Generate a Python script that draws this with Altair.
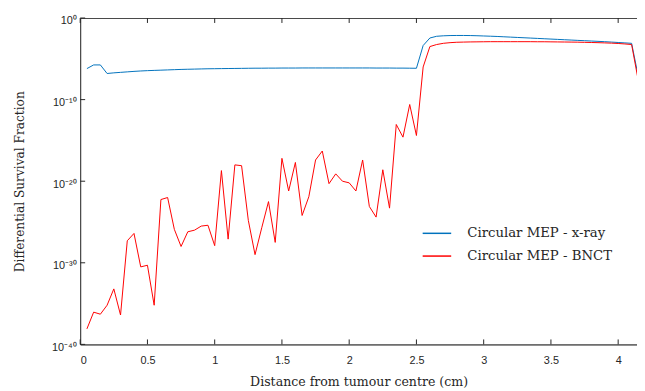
import altair as alt
import pandas as pd

# distance from tumour centre (cm)
distance_cm = [0.05, 0.10, 0.15, 0.20, 0.25, 0.30, 0.35, 0.40, 0.45, 0.50,
               0.55, 0.60, 0.65, 0.70, 0.75, 0.80, 0.85, 0.90, 0.95, 1.00,
               1.05, 1.10, 1.15, 1.20, 1.25, 1.30, 1.35, 1.40, 1.45, 1.50,
               1.55, 1.60, 1.65, 1.70, 1.75, 1.80, 1.85, 1.90, 1.95, 2.00,
               2.05, 2.10, 2.15, 2.20, 2.25, 2.30, 2.35, 2.40, 2.45, 2.50,
               2.55, 2.60, 2.65, 2.70, 2.75, 2.80, 2.85, 2.90, 2.95, 3.00,
               3.05, 3.10, 3.15, 3.20, 3.25, 3.30, 3.35, 3.40, 3.45, 3.50,
               3.55, 3.60, 3.65, 3.70, 3.75, 3.80, 3.85, 3.90, 3.95, 4.00,
               4.05, 4.10, 4.15]

# log10 of differential survival fraction, x-ray
xray_log10 = [-6.2, -5.75, -5.75, -6.8, -6.72, -6.66, -6.6, -6.54, -6.49, -6.45,
              -6.42, -6.39, -6.36, -6.33, -6.3, -6.28, -6.26, -6.24, -6.22, -6.21,
              -6.2, -6.19, -6.18, -6.17, -6.16, -6.15, -6.15, -6.14, -6.14, -6.13,
              -6.13, -6.13, -6.12, -6.12, -6.12, -6.12, -6.12, -6.12, -6.12, -6.12,
              -6.12, -6.12, -6.12, -6.13, -6.13, -6.13, -6.14, -6.14, -6.15, -6.16,
              -3.37, -2.45, -2.24, -2.18, -2.15, -2.14, -2.14, -2.15, -2.17, -2.2,
              -2.23, -2.26, -2.3, -2.34, -2.38, -2.42, -2.46, -2.5, -2.54, -2.58,
              -2.62, -2.66, -2.7, -2.74, -2.78, -2.82, -2.86, -2.9, -2.95, -3.0,
              -3.05, -3.1, -7.2]

# log10 of differential survival fraction, BNCT
bnct_log10 = [-38.1, -36.05, -36.3, -35.2, -33.2, -36.4, -27.3, -26.4, -30.5, -30.3,
              -35.2, -22.25, -22.0, -25.9, -28.0, -26.2, -26.0, -25.5, -25.4, -27.9,
              -18.7, -27.1, -18.0, -18.1, -24.8, -29.0, -25.7, -22.5, -27.5, -17.2,
              -21.2, -17.7, -24.2, -21.9, -17.4, -16.3, -20.3, -19.1, -20.0, -20.2,
              -21.2, -17.4, -23.1, -24.4, -18.6, -23.3, -13.05, -14.6, -10.6, -14.4,
              -6.0, -3.5, -3.25, -3.1, -3.02, -2.97, -2.95, -2.93, -2.92, -2.91,
              -2.9, -2.9, -2.9, -2.9, -2.9, -2.9, -2.9, -2.91, -2.91, -2.92,
              -2.93, -2.94, -2.95, -2.96, -2.98, -3.0, -3.02, -3.05, -3.08, -3.12,
              -3.18, -3.25, -7.7]

series_names = ["Circular MEP - x-ray", "Circular MEP - BNCT"]
series_colors = ["#0072BD", "#FF0000"]

x_ticks = [0, 0.5, 1, 1.5, 2, 2.5, 3, 3.5, 4]
y_tick_exponents = [0, -10, -20, -30, -40]
y_tick_labels = ["10\u2070", "10\u207b\u00b9\u2070", "10\u207b\u00b2\u2070",
                 "10\u207b\u00b3\u2070", "10\u207b\u2074\u2070"]

rows = []
for d, a, b in zip(distance_cm, xray_log10, bnct_log10):
    rows.append({"x": d, "y": 10.0 ** a, "series": series_names[0]})
    rows.append({"x": d, "y": 10.0 ** b, "series": series_names[1]})
df = pd.DataFrame(rows)

xt = pd.DataFrame({"x": x_ticks})
yt = pd.DataFrame({"y": [10.0 ** e for e in y_tick_exponents]})

W, H = 563, 330
XDOM = [0, 4.14]
YDOM = [1e-40, 1]

label_expr = ""
for e, lab in zip(y_tick_exponents[:-1], y_tick_labels[:-1]):
    label_expr += f"datum.value >= {10.0 ** (e - 5)} ? '{lab}' : "
label_expr += f"'{y_tick_labels[-1]}'"

serif = "DejaVu Serif"
sans = "Liberation Sans"
ink = "#262626"

xscale = alt.Scale(domain=XDOM, nice=False, zero=False)
yscale = alt.Scale(type="log", domain=YDOM, nice=False)

lines = alt.Chart(df).mark_line(strokeWidth=1, clip=True).encode(
    x=alt.X("x:Q", scale=xscale,
            axis=alt.Axis(values=x_ticks, format="~g", ticks=False,
                          domainColor="#6e6e6e", domainWidth=1.6,
                          labelFont=sans, labelFontSize=11, labelColor=ink,
                          labelPadding=10, grid=False,
                          title="Distance from tumour centre (cm)",
                          titleFont=serif, titleFontSize=12.7, titleFontWeight="normal",
                          titleColor=ink, titleBaseline="alphabetic", titleY=42)),
    y=alt.Y("y:Q", scale=yscale,
            axis=alt.Axis(values=[10.0 ** e for e in y_tick_exponents],
                          labelExpr=label_expr, ticks=False,
                          domainColor=ink, domainWidth=1,
                          labelFont=sans, labelFontSize=11, labelColor=ink,
                          labelPadding=4, labelBaseline="alphabetic", labelOffset=6,
                          grid=False, title="Differential Survival Fraction",
                          titleFont=serif, titleFontSize=12.3, titleFontWeight="normal",
                          titleColor=ink, titleBaseline="alphabetic", titleX=-57)),
    color=alt.Color("series:N",
                    scale=alt.Scale(domain=series_names, range=series_colors),
                    sort=series_names,
                    legend=alt.Legend(title=None, orient="none", legendX=354, legendY=211,
                                      symbolType="M-4,0H4", symbolSize=52,
                                      symbolStrokeWidth=1.5, labelFont=serif,
                                      labelFontSize=13.4, labelColor=ink,
                                      labelOffset=24, rowPadding=8, padding=0)),
    detail="series:N",
)

top_ticks = alt.Chart(xt).mark_rule(color=ink, strokeWidth=1).encode(
    x=alt.X("x:Q", scale=xscale,
            axis=alt.Axis(orient="top", labels=False, ticks=False, title=None,
                          domainColor="#4a4a4a", domainWidth=1.2, grid=False)),
    y=alt.value(0), y2=alt.value(5),
)

bottom_ticks = alt.Chart(xt).mark_rule(color=ink, strokeWidth=1).encode(
    x=alt.X("x:Q", scale=xscale, axis=None),
    y=alt.value(H), y2=alt.value(H - 5),
)

left_ticks = alt.Chart(yt).mark_rule(color=ink, strokeWidth=1).encode(
    y=alt.Y("y:Q", scale=yscale, axis=None),
    x=alt.value(0), x2=alt.value(5),
)

chart = alt.layer(lines, top_ticks, bottom_ticks, left_ticks).resolve_axis(
    x="independent", y="independent"
).properties(
    width=W, height=H,
    autosize=alt.AutoSizeParams(type="none"),
    padding={"left": 73, "top": 8, "right": 0, "bottom": 45},
).configure_view(stroke=None).configure(background="white")

chart.save("out.html", embed_options={"renderer": "svg", "actions": False})
